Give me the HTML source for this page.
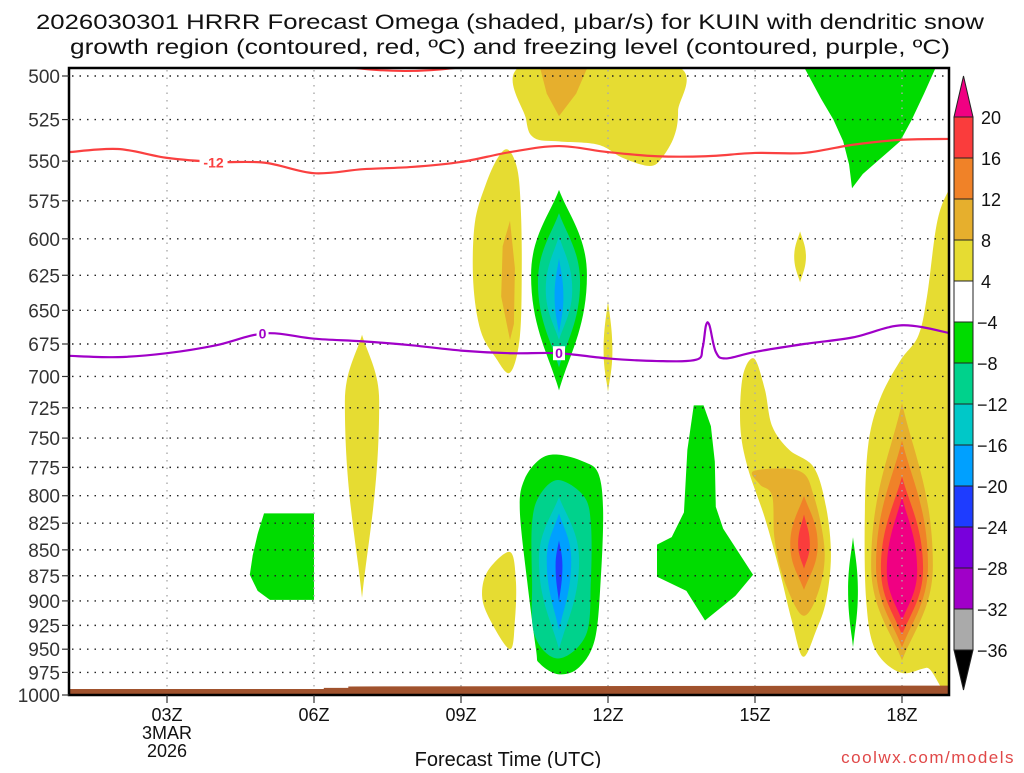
<!DOCTYPE html>
<html><head><meta charset="utf-8"><style>
html,body{margin:0;padding:0;background:#fff;}
svg text{font-family:"Liberation Sans","DejaVu Sans",sans-serif;}
</style></head><body>
<svg id="chart" xmlns="http://www.w3.org/2000/svg" width="1024" height="768" viewBox="0 0 1024 768">
<text x="510" y="29" font-size="21" text-anchor="middle" textLength="948" lengthAdjust="spacingAndGlyphs" fill="#111">2026030301 HRRR Forecast Omega (shaded, μbar/s) for KUIN with dendritic snow</text>
<text x="510" y="54" font-size="21" text-anchor="middle" textLength="880" lengthAdjust="spacingAndGlyphs" fill="#111">growth region (contoured, red, ºC) and freezing level (contoured, purple, ºC)</text>
<defs><clipPath id="plotclip"><rect x="69" y="68" width="880" height="627"/></clipPath></defs>
<g id="shading" clip-path="url(#plotclip)"></g>
<g id="grid"></g>
<g id="lines" clip-path="url(#plotclip)"></g>
<g id="axes"></g>
<g id="cbar"></g>
<text x="508" y="766" font-size="20" text-anchor="middle" fill="#111">Forecast Time (UTC)</text>
<text x="1015" y="763" font-size="17" text-anchor="end" letter-spacing="1.5" fill="#e04848">coolwx.com/models</text>
</svg>
<script>
const yTicks=[500,525,550,575,600,625,650,675,700,725,750,775,800,825,850,875,900,925,950,975,1000];
const xTickHours=[3,6,9,12,15,18];
const xTickLabels=["03Z","06Z","09Z","12Z","15Z","18Z"];
const cbLevels=[20,16,12,8,4,-4,-8,-12,-16,-20,-24,-28,-32,-36];
const cbColors=["#fa3c3c","#f08228","#e6af2d","#e6dc32","#ffffff","#00dc00","#00d28c","#00c8c8","#00a0ff","#1e3cff","#7800dc","#a000c8","#aaaaaa"];
const C={y:"#e6dc32",g8:"#e6af2d",o:"#f08228",r:"#fa3c3c",m:"#f00082",gr:"#00dc00",t:"#00d28c",c:"#00c8c8",lb:"#00a0ff",b:"#1e3cff"};
// polygons: [colorKey, sharp(1)/smooth(0), [[hour,pressure],...]]
const polyBlobs=[
["y",0,[[10.27,494],[13.35,494],[13.43,520],[13.35,535],[13.1,548],[12.85,553],[12.3,548],[11.8,540],[11.0,538],[10.5,536],[10.33,525]]],
["g8",1,[[10.6,494],[11.6,494],[11.35,510],[11.0,523],[10.75,510]]],
["y",0,[[9.96,543],[10.15,555],[10.22,580],[10.24,620],[10.2,670],[10.0,697],[9.7,685],[9.4,665],[9.25,630],[9.28,590],[9.5,565],[9.75,548]]],
["g8",1,[[10.0,588],[10.1,620],[10.08,660],[10.0,672],[9.82,640],[9.85,605]]],
["gr",1,[[4.98,816],[6.0,816],[6.0,899],[5.1,899],[4.85,890],[4.69,874],[4.75,855],[4.85,835]]],
["gr",0,[[10.98,764],[11.5,770],[11.8,780],[11.9,813],[11.85,880],[11.73,940],[11.4,970],[10.98,977],[10.6,965],[10.53,950],[10.35,880],[10.2,813],[10.29,786],[10.61,768]]],
["t",0,[[10.98,786],[11.5,800],[11.65,825],[11.65,880],[11.55,935],[10.98,960],[10.5,935],[10.45,880],[10.45,825],[10.6,800]]],
["y",0,[[10.0,852],[10.12,880],[10.1,920],[10.0,950],[9.6,920],[9.43,895],[9.55,870]]],
["gr",1,[[13.75,723],[13.95,723],[14.1,740],[14.18,770],[14.2,810],[14.35,830],[14.96,874],[14.6,895],[13.98,920],[13.6,890],[13.0,876],[13.0,845],[13.3,838],[13.55,815],[13.62,760]]],
["y",0,[[14.98,686],[15.2,710],[15.35,740],[15.7,760],[16.2,775],[16.45,810],[16.55,855],[16.45,900],[16.25,930],[15.98,958],[15.75,920],[15.5,870],[15.2,820],[14.85,775],[14.7,740],[14.75,700]]],
["g8",0,[[14.98,778],[15.9,778],[16.2,800],[16.42,850],[16.3,890],[15.98,915],[15.6,880],[15.4,840],[15.35,800],[15.1,790]]],
["y",0,[[19.2,560],[18.94,569],[18.71,590],[18.51,640],[18.33,669],[17.96,688],[17.55,718],[17.31,756],[17.24,822],[17.27,900],[17.45,950],[17.96,975],[18.5,970],[19.2,962]]],
["gr",1,[[15.98,494],[18.71,494],[18.45,510],[18.2,525],[17.96,538],[17.5,550],[17.2,558],[16.98,567],[16.92,552],[16.8,538],[16.6,525],[16.35,513]]]
];
// lenses: [colorKey, centerHour, topP, bottomP, widestP, halfWidthHours]
const lensBlobs=[
["gr",11.0,568,711,625,0.57],["t",11.0,583,693,630,0.43],["c",11.0,598,672,635,0.27],["lb",11.0,613,667,640,0.09],
["y",12.0,643,712,680,0.09],
["y",6.98,668,897,720,0.35],
["c",11.0,801,950,860,0.41],["lb",11.0,816,930,860,0.25],["b",11.0,841,901,865,0.07],
["o",16.0,800,889,845,0.28],["r",16.0,817,868,845,0.12],
["gr",17.0,838,948,890,0.1],
["y",15.92,595,630,612,0.12],
["g8",18.0,721,962,865,0.63],["o",18.0,752,948,865,0.53],["r",18.0,783,935,868,0.43],["m",18.0,801,920,870,0.31]
];
const redHours=[1,2,3,4,5,6,7,8,9,10,11,12,13,14,15,16,17,18,19];
const redP=[544.5,542.6,548,550.5,551,557.5,555,553.6,550.5,544.5,540.8,544.5,547,547,545,545,540,537,536.5];
const purHours=[1,2,3,4,5,6,7,8,9,10,11,12,13,13.8,13.93,14.0,14.07,14.2,14.4,15,16,17,18,19];
const purP=[684,685,682,676,667,671,673,676,680,682,682,686,688,687,678,661,661,681,686,681,675,670,661,667];
const groundHours=[1,6.2,6.2,6.7,6.7,19];
const groundP=[993.3,993.3,992,992,990.5,989.5];

const NS="http://www.w3.org/2000/svg";
const X=h=>167+(h-3)*49;
const Y=p=>76+Math.log(p/500)/Math.LN2*619;
function mk(tag,attrs,parent){const e=document.createElementNS(NS,tag);for(const k in attrs)e.setAttribute(k,attrs[k]);parent.appendChild(e);return e;}
function smoothClosed(pts){
  const n=pts.length;let d=`M${pts[0][0]},${pts[0][1]}`;
  for(let i=0;i<n;i++){const p0=pts[(i-1+n)%n],p1=pts[i],p2=pts[(i+1)%n],p3=pts[(i+2)%n];
    const c1=[p1[0]+(p2[0]-p0[0])/6,p1[1]+(p2[1]-p0[1])/6],c2=[p2[0]-(p3[0]-p1[0])/6,p2[1]-(p3[1]-p1[1])/6];
    d+=`C${c1[0]},${c1[1]} ${c2[0]},${c2[1]} ${p2[0]},${p2[1]}`;}
  return d+"Z";}
function smoothOpen(pts){
  let d=`M${pts[0][0]},${pts[0][1]}`;const n=pts.length;
  for(let i=0;i<n-1;i++){const p0=pts[Math.max(i-1,0)],p1=pts[i],p2=pts[i+1],p3=pts[Math.min(i+2,n-1)];
    const c1=[p1[0]+(p2[0]-p0[0])/6,p1[1]+(p2[1]-p0[1])/6],c2=[p2[0]-(p3[0]-p1[0])/6,p2[1]-(p3[1]-p1[1])/6];
    d+=`C${c1[0]},${c1[1]} ${c2[0]},${c2[1]} ${p2[0]},${p2[1]}`;}
  return d;}
const shading=document.getElementById('shading');
const order=["y","gr","g8","t","o","c","r","lb","m","b"];
const all=[];
polyBlobs.forEach((b,i)=>all.push({k:b[0],type:'poly',sharp:b[1],d:b[2],i}));
lensBlobs.forEach((b,i)=>all.push({k:b[0],type:'lens',d:b,i}));
all.sort((a,b)=>order.indexOf(a.k)-order.indexOf(b.k));
all.forEach(b=>{
  let d;
  if(b.type==='poly'){const pts=b.d.map(q=>[X(q[0]),Y(q[1])]);
    d=b.sharp?('M'+pts.map(q=>q[0]+','+q[1]).join('L')+'Z'):smoothClosed(pts);}
  else{const [k,h,pt,pb,pw,hw]=b.d;const cx=X(h),yt=Y(pt),yb=Y(pb),yw=Y(pw),w=hw*49;
    d=`M${cx},${yt}C${cx+w*0.35},${yt+(yw-yt)*0.3} ${cx+w},${yw-(yw-yt)*0.45} ${cx+w},${yw}`+
      `C${cx+w},${yw+(yb-yw)*0.45} ${cx+w*0.35},${yb-(yb-yw)*0.3} ${cx},${yb}`+
      `C${cx-w*0.35},${yb-(yb-yw)*0.3} ${cx-w},${yw+(yb-yw)*0.45} ${cx-w},${yw}`+
      `C${cx-w},${yw-(yw-yt)*0.45} ${cx-w*0.35},${yt+(yw-yt)*0.3} ${cx},${yt}Z`;}
  const e=mk('path',{d:d,fill:C[b.k]},shading);
  
  
});
// grid
const grid=document.getElementById('grid');
yTicks.forEach(p=>{if(p===1000)return;const e=mk('line',{x1:72,x2:949,y1:Y(p),y2:Y(p),stroke:'#222','stroke-width':1.4,'stroke-dasharray':'1.5 6'},grid);
  });
xTickHours.forEach(h=>{const e=mk('line',{x1:X(h),x2:X(h),y1:70,y2:692,stroke:'#aaa','stroke-width':1.4,'stroke-dasharray':'1.5 6'},grid);
  });
// lines
const lines=document.getElementById('lines');
let e=mk('path',{d:'M355,68 Q405,74 455,68',fill:'none',stroke:'#fa3c3c','stroke-width':2},lines);

e=mk('path',{d:smoothOpen(redHours.map((h,i)=>[X(h),Y(redP[i])])),fill:'none',stroke:'#fa4040','stroke-width':2.2},lines);

e=mk('path',{d:smoothOpen(purHours.map((h,i)=>[X(h),Y(purP[i])])),fill:'none',stroke:'#a000c8','stroke-width':2.2},lines);

const labs=[[3.95,550.8,'-12','#fa4040','red-contour-label'],[4.95,667,'0','#a000c8','freezing-label-1'],[11.0,682,'0','#a000c8','freezing-label-2']];
labs.forEach(l=>{const x=X(l[0]),y=Y(l[1]);const w=l[2].length*8+4;
  const r=mk('rect',{x:x-w/2,y:y-7,width:w,height:14,fill:'#fff'},lines);
  
  const t=mk('text',{x:x,y:y+5,'font-size':14,'font-weight':'bold','text-anchor':'middle',fill:l[3]},lines);t.textContent=l[2];
  });
// ground
let gp=groundHours.map((h,i)=>[X(h),Y(groundP[i])]);
let gd='M'+X(1)+','+Y(1000)+gp.map(q=>'L'+q[0]+','+q[1]).join('')+'L'+X(19)+','+Y(1000)+'Z';
e=mk('path',{d:gd,fill:'#a0522d'},lines);

// axes
const axes=document.getElementById('axes');
e=mk('path',{d:'M69,68H949V695H69Z',fill:'none',stroke:'#000','stroke-width':2.5},axes);

yTicks.forEach(p=>{const y=Y(p);
  const tk=mk('line',{x1:62,x2:69,y1:y,y2:y,stroke:'#333','stroke-width':1.2},axes);
  
  const t=mk('text',{x:60,y:y+7,'font-size':19,'text-anchor':'end',fill:'#333'},axes);t.textContent=p;
  });
xTickHours.forEach((h,i)=>{const x=X(h);
  const tk=mk('line',{x1:x,x2:x,y1:695,y2:703,stroke:'#333','stroke-width':1.2},axes);
  
  const t=mk('text',{x:x,y:721,'font-size':18,'text-anchor':'middle',fill:'#111'},axes);t.textContent=xTickLabels[i];
  });
[["3MAR",739],["2026",757]].forEach(a=>{const t=mk('text',{x:X(3),y:a[1],'font-size':18,'text-anchor':'middle',fill:'#111'},axes);t.textContent=a[0];
  });
// colorbar
const cb=document.getElementById('cbar');
const cbY=v=>{const i=cbLevels.indexOf(v);return 117+i*41.0;};
e=mk('path',{d:`M954,${cbY(20)}L963.5,76L973,${cbY(20)}Z`,fill:'#f00082',stroke:'#222','stroke-width':1},cb);

cbColors.forEach((c,i)=>{const y1=cbY(cbLevels[i]),y2=cbY(cbLevels[i+1]);
  const r=mk('rect',{x:954,y:y1,width:19,height:y2-y1,fill:c,stroke:'#222','stroke-width':1},cb);
  });
e=mk('path',{d:`M954,${cbY(-36)}L963.5,690L973,${cbY(-36)}Z`,fill:'#000',stroke:'#222','stroke-width':1},cb);

cbLevels.forEach(v=>{const t=mk('text',{x:v<0?977:981,y:cbY(v)+7,'font-size':18,fill:'#111'},cb);t.textContent=v<0?'\u2212'+(-v):v;
  });
</script>
</body></html>
